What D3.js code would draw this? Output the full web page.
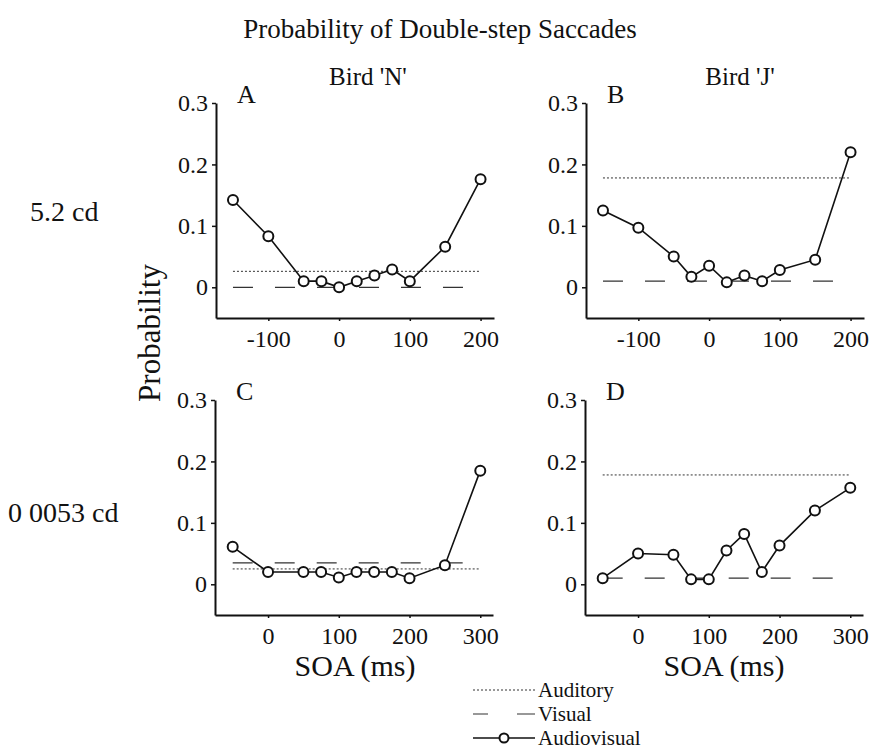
<!DOCTYPE html>
<html><head><meta charset="utf-8">
<script src="https://cdn.jsdelivr.net/npm/d3@7"></script>
<style>
html,body{margin:0;padding:0;background:#fff;}
svg text{font-family:"Liberation Serif","Times New Roman",serif;fill:#111;}
</style></head>
<body><svg id="c" width="875" height="754"></svg>
<script>
// ---- data ----
const soaTop = [-150,-100,-50,-25,0,25,50,75,100,150,200];
const soaBottom = [-50,0,50,75,100,125,150,175,200,250,300];
const avA = [0.142,0.083,0.010,0.010,0.000,0.010,0.019,0.029,0.010,0.066,0.176];
const avB = [0.125,0.097,0.050,0.017,0.035,0.008,0.019,0.010,0.028,0.045,0.220];
const avC = [0.061,0.020,0.020,0.020,0.011,0.020,0.020,0.020,0.010,0.031,0.185];
const avD = [0.010,0.050,0.048,0.008,0.008,0.055,0.082,0.020,0.063,0.120,0.157];
const auditory = [0.026,0.178,0.025,0.178];   // A,B,C,D
const visual   = [0.000,0.010,0.035,0.010];   // A,B,C,D
const panelLetters = ["A","B","C","D"];
const yTicks = [0,0.1,0.2,0.3];
const xTicksTop = [-100,0,100,200];
const xTicksBottom = [0,100,200,300];
const birdLabels = ["Bird 'N'","Bird 'J'"];
const rowLabels = ["5.2 cd","0 0053 cd"];
const legendLabels = ["Auditory","Visual","Audiovisual"];

// ---- layout ----
const svg = d3.select("#c");
const W = 278, H = 215;
const panels = [
  {x0:216, y0:103, soa:soaTop, av:avA, dom:[-174,219], ticks:xTicksTop},
  {x0:586, y0:103, soa:soaTop, av:avB, dom:[-174,219], ticks:xTicksTop},
  {x0:215, y0:400, soa:soaBottom, av:avC, dom:[-75,318], ticks:xTicksBottom},
  {x0:585, y0:400, soa:soaBottom, av:avD, dom:[-75,318], ticks:xTicksBottom}
];

svg.append("text").attr("x",440).attr("y",38).attr("text-anchor","middle")
  .attr("font-size",27).text("Probability of Double-step Saccades");

panels.forEach((p,i)=>{
  const g = svg.append("g").attr("transform",`translate(${p.x0},${p.y0})`);
  const x = d3.scaleLinear().domain(p.dom).range([0,W]);
  const y = d3.scaleLinear().domain([-0.05,0.3]).range([H,0]);

  const ya = g.append("g").call(d3.axisLeft(y).tickValues(yTicks).tickSize(4).tickSizeOuter(0)
     .tickFormat(d=>d===0?"0":d.toFixed(1)));
  const xa = g.append("g").attr("transform",`translate(0,${H})`)
     .call(d3.axisBottom(x).tickValues(p.ticks).tickSize(3).tickSizeOuter(0)
     .tickFormat(d=>String(d)));
  [ya,xa].forEach(a=>{
    a.select(".domain").attr("stroke","#111").attr("stroke-width",2);
    a.selectAll(".tick line").attr("stroke","#111").attr("stroke-width",1.5);
    a.selectAll("text").attr("font-size",24).attr("fill","#111");
  });
  ya.selectAll("text").attr("x",-8);
  xa.selectAll("text").attr("y",12);

  const xs = x(p.soa[0]), xe = x(p.soa[p.soa.length-1]);
  // auditory (dotted)
  g.append("line").attr("x1",xs).attr("x2",xe)
    .attr("y1",y(auditory[i])).attr("y2",y(auditory[i]))
    .attr("stroke","#333").attr("stroke-width",1).attr("stroke-dasharray","2,2");
  // visual (long dash)
  g.append("line").attr("x1",xs).attr("x2",xe-12)
    .attr("y1",y(visual[i])).attr("y2",y(visual[i]))
    .attr("stroke","#333").attr("stroke-width",1.2).attr("stroke-dasharray","20,22");

  const pts = p.soa.map((s,k)=>[s,p.av[k]]);
  g.append("path").datum(pts)
    .attr("d",d3.line().x(d=>x(d[0])).y(d=>y(d[1])))
    .attr("fill","none").attr("stroke","#111").attr("stroke-width",1.6);
  g.selectAll("circle.pt").data(pts).join("circle").attr("class","pt")
    .attr("cx",d=>x(d[0])).attr("cy",d=>y(d[1])).attr("r",5)
    .attr("fill","#fff").attr("stroke","#111").attr("stroke-width",2);

  g.append("text").attr("x",21).attr("y",0).attr("font-size",26).text(panelLetters[i]);
});

svg.append("text").attr("x",368).attr("y",85).attr("text-anchor","middle").attr("font-size",25).text(birdLabels[0]);
svg.append("text").attr("x",740).attr("y",85).attr("text-anchor","middle").attr("font-size",25).text(birdLabels[1]);
svg.append("text").attr("x",30).attr("y",221).attr("font-size",28).text(rowLabels[0]);
svg.append("text").attr("x",8).attr("y",522).attr("font-size",28).text(rowLabels[1]);
svg.append("text").attr("transform","translate(160,333) rotate(-90)").attr("text-anchor","middle")
  .attr("font-size",31).text("Probability");
svg.append("text").attr("x",355).attr("y",676).attr("text-anchor","middle").attr("font-size",30).text("SOA (ms)");
svg.append("text").attr("x",724).attr("y",676).attr("text-anchor","middle").attr("font-size",30).text("SOA (ms)");

// legend
const lx0 = 473, lx1 = 535, ly = [690,714,738];
const lg = svg.append("g");
lg.append("line").attr("x1",lx0).attr("x2",lx1).attr("y1",ly[0]).attr("y2",ly[0])
  .attr("stroke","#333").attr("stroke-width",1).attr("stroke-dasharray","2,2");
lg.append("line").attr("x1",lx0).attr("x2",lx1).attr("y1",ly[1]).attr("y2",ly[1])
  .attr("stroke","#333").attr("stroke-width",1.2).attr("stroke-dasharray","15,29,18");
lg.append("line").attr("x1",lx0).attr("x2",lx1).attr("y1",ly[2]).attr("y2",ly[2])
  .attr("stroke","#111").attr("stroke-width",1.6);
lg.append("circle").attr("cx",(lx0+lx1)/2).attr("cy",ly[2]).attr("r",4.5)
  .attr("fill","#fff").attr("stroke","#111").attr("stroke-width",2);
legendLabels.forEach((t,k)=>{
  lg.append("text").attr("x",538).attr("y",ly[k]).attr("dy","0.33em").attr("font-size",21).text(t);
});
</script></body></html>
